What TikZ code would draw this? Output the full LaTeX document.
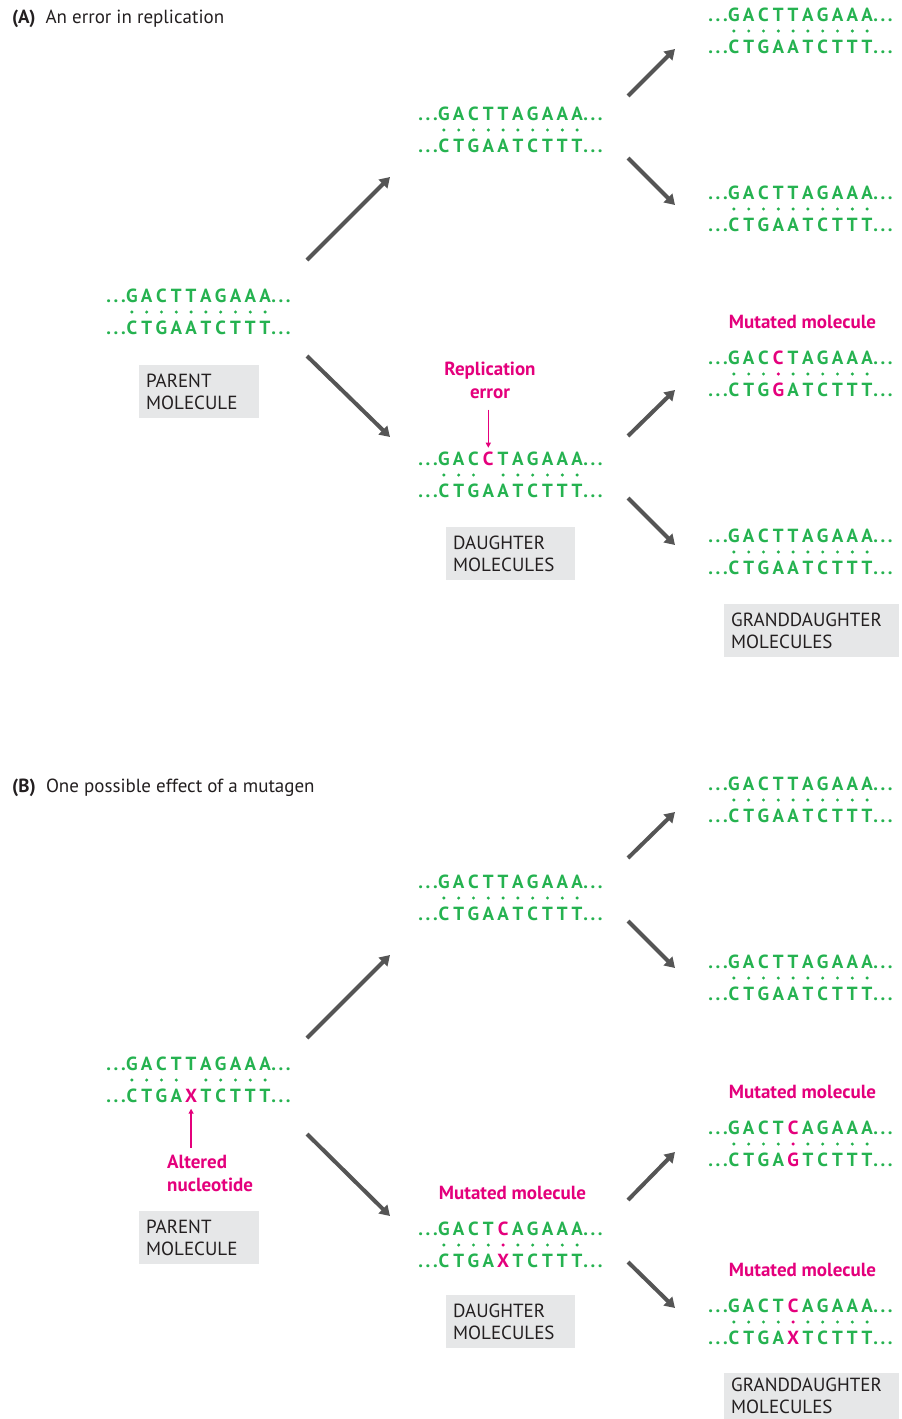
\documentclass[tikz,border=0pt]{standalone}
\usepackage{fontspec}
\setmainfont{PT Sans}
\usetikzlibrary{arrows.meta,positioning}

\newcommand{\basegap}{14.8}
\newcommand{\dotdotdot}{.\kern2.6pt.\kern2.6pt.}
% #1 name, #2 centre, #3 top bases, #4 bottom bases,
% #5 odd position, #6 top colour, #7 bottom colour, #8 dot colour there
\newcommand{\dnapair}[8]{%
  \begin{scope}[shift={(#2)}]
    \coordinate (#1) at (0,0);
    \foreach \b [count=\i] in {#3} {
      \ifnum\i=#5 \def\col{#6}\else\def\col{dnagreen}\fi
      \node[nucl,text=\col] (#1-t\i) at ({(\i-5.5)*\basegap},-9.5) {\b};
    }
    \foreach \b [count=\i] in {#4} {
      \ifnum\i=#5 \def\col{#7}\else\def\col{dnagreen}\fi
      \node[nucl,text=\col] (#1-b\i) at ({(\i-5.5)*\basegap},22.5) {\b};
      \ifnum\i=#5 \def\col{#8}\else\def\col{dnagreen}\fi
      \path[fill=\col] ({(\i-5.5)*\basegap},0) circle (1.7);
    }
    \node[nucl,anchor=base east] (#1-tl) at ({-4.5*\basegap-6},-9.5) {\dotdotdot};
    \node[nucl,anchor=base west] (#1-tr) at ({4.5*\basegap+6},-9.5) {\dotdotdot};
    \node[nucl,anchor=base east] (#1-bl) at ({-4.5*\basegap-6},22.5) {\dotdotdot};
    \node[nucl,anchor=base west] (#1-br) at ({4.5*\basegap+6},22.5) {\dotdotdot};
  \end{scope}}

\begin{document}
\begin{tikzpicture}[x=1pt,y=-1pt,
    nucl/.style={inner sep=0pt,anchor=base,text=dnagreen,
      font=\fontsize{19}{22}\selectfont\bfseries},
    copyarrow/.style={arrowgray,line width=4pt,-{Triangle[length=10pt,width=12pt]}},
    errpointer/.style={errmagenta,line width=1.6pt,-{Triangle[length=5pt,width=5pt]}},
    errlabel/.style={inner sep=0pt,text=errmagenta,align=center,
      font=\fontsize{19}{23}\selectfont\bfseries},
    labelbox/.style={fill=boxgray,text=inkgray,inner xsep=7pt,inner ysep=0pt,
      minimum height=53pt,align=left,anchor=north west,
      font=\fontsize{19}{22}\selectfont},
    title/.style={inner sep=0pt,anchor=base west,text=inkgray,
      font=\fontsize{19}{22}\selectfont}]
    \definecolor{dnagreen}{RGB}{37,178,80}
    \definecolor{errmagenta}{RGB}{228,0,124}
    \definecolor{arrowgray}{RGB}{85,85,85}
    \definecolor{boxgray}{RGB}{230,231,232}
    \definecolor{inkgray}{RGB}{35,31,32}

    \useasboundingbox (0,0) rectangle (902,1419);

    % (A) replication error
    \node[title] (titleA) at (12,23) {\textbf{(A)}\ \ An error in replication};

    \dnapair{pA}{198.5,312}{G,A,C,T,T,A,G,A,A,A}{C,T,G,A,A,T,C,T,T,T}{0}{}{}{}
    \dnapair{dAup}{510.5,130}{G,A,C,T,T,A,G,A,A,A}{C,T,G,A,A,T,C,T,T,T}{0}{}{}{}
    \dnapair{dAdn}{510.5,475}{G,A,C,C,T,A,G,A,A,A}{C,T,G,A,A,T,C,T,T,T}{4}{errmagenta}{dnagreen}{none}
    \dnapair{gA1}{800.5,31}{G,A,C,T,T,A,G,A,A,A}{C,T,G,A,A,T,C,T,T,T}{0}{}{}{}
    \dnapair{gA2}{800.5,209}{G,A,C,T,T,A,G,A,A,A}{C,T,G,A,A,T,C,T,T,T}{0}{}{}{}
    \dnapair{gA3}{800.5,374}{G,A,C,C,T,A,G,A,A,A}{C,T,G,G,A,T,C,T,T,T}{4}{errmagenta}{errmagenta}{errmagenta}
    \dnapair{gA4}{800.5,552}{G,A,C,T,T,A,G,A,A,A}{C,T,G,A,A,T,C,T,T,T}{0}{}{}{}

    \node[errlabel] (errA) at (490,380) {Replication\\error};
    \draw[errpointer,shorten <=11pt,shorten >=4pt]
        (errA.south -| dAdn-t4.north) -- (dAdn-t4.north);
    \node[errlabel,above=45pt of gA3,xshift=2pt] (mutA3) {Mutated molecule};

    \coordinate (a1) at (307,260); \coordinate (a2) at (390,177);
    \coordinate (a3) at (307,356); \coordinate (a4) at (390,437);
    \coordinate (a5) at (628,96);  \coordinate (a6) at (675,49);
    \coordinate (a7) at (628,158); \coordinate (a8) at (675,205);
    \coordinate (a9) at (628,436); \coordinate (a10) at (675,390);
    \coordinate (a11) at (628,498); \coordinate (a12) at (675,545);
    \foreach \s/\e in {a1/a2,a3/a4,a5/a6,a7/a8,a9/a10,a11/a12}
        \draw[copyarrow] (\s) -- (\e);

    \node[labelbox,text width=106pt] (boxPA) at (139,365) {PARENT\\MOLECULE};
    \node[labelbox,text width=115pt] (boxDA) at (446,527) {DAUGHTER\\MOLECULES};
    \node[labelbox,text width=161pt] (boxGA) at (724,604) {GRANDDAUGHTER\\MOLECULES};

    % (B) mutagen
    \node[title] (titleB) at (12,792) {\textbf{(B)}\ \ One possible effect of a mutagen};

    \dnapair{pB}{198.5,1080}{G,A,C,T,T,A,G,A,A,A}{C,T,G,A,X,T,C,T,T,T}{5}{dnagreen}{errmagenta}{none}
    \dnapair{dBup}{510.5,898}{G,A,C,T,T,A,G,A,A,A}{C,T,G,A,A,T,C,T,T,T}{0}{}{}{}
    \dnapair{dBdn}{510.5,1245}{G,A,C,T,C,A,G,A,A,A}{C,T,G,A,X,T,C,T,T,T}{5}{errmagenta}{errmagenta}{errmagenta}
    \dnapair{gB1}{800.5,800}{G,A,C,T,T,A,G,A,A,A}{C,T,G,A,A,T,C,T,T,T}{0}{}{}{}
    \dnapair{gB2}{800.5,978}{G,A,C,T,T,A,G,A,A,A}{C,T,G,A,A,T,C,T,T,T}{0}{}{}{}
    \dnapair{gB3}{800.5,1144}{G,A,C,T,C,A,G,A,A,A}{C,T,G,A,G,T,C,T,T,T}{5}{errmagenta}{errmagenta}{errmagenta}
    \dnapair{gB4}{800.5,1322}{G,A,C,T,C,A,G,A,A,A}{C,T,G,A,X,T,C,T,T,T}{5}{errmagenta}{errmagenta}{errmagenta}

    \node[errlabel,align=left,anchor=north west] (altB) at (167,1155) {Altered\\nucleotide};
    \draw[errpointer,shorten <=7pt,shorten >=6pt]
        (altB.north -| pB-b5.south) -- (pB-b5.south);
    \node[errlabel,above=45pt of dBdn,xshift=2pt] (mutB) {Mutated molecule};
    \node[errlabel,above=45pt of gB3,xshift=2pt] (mutB3) {Mutated molecule};
    \node[errlabel,above=45pt of gB4,xshift=2pt] (mutB4) {Mutated molecule};

    \coordinate (b1) at (307,1038); \coordinate (b2) at (390,955);
    \coordinate (b3) at (307,1134); \coordinate (b4) at (390,1216);
    \coordinate (b5) at (628,858);  \coordinate (b6) at (675,812);
    \coordinate (b7) at (628,921);  \coordinate (b8) at (675,968);
    \coordinate (b9) at (628,1200); \coordinate (b10) at (675,1152);
    \coordinate (b11) at (628,1262); \coordinate (b12) at (675,1308);
    \foreach \s/\e in {b1/b2,b3/b4,b5/b6,b7/b8,b9/b10,b11/b12}
        \draw[copyarrow] (\s) -- (\e);

    \node[labelbox,text width=106pt] (boxPB) at (139,1211) {PARENT\\MOLECULE};
    \node[labelbox,text width=115pt] (boxDB) at (446,1295) {DAUGHTER\\MOLECULES};
    \node[labelbox,text width=161pt,minimum height=46pt] (boxGB) at (724,1373) {GRANDDAUGHTER\\MOLECULES};
\end{tikzpicture}
\end{document}
